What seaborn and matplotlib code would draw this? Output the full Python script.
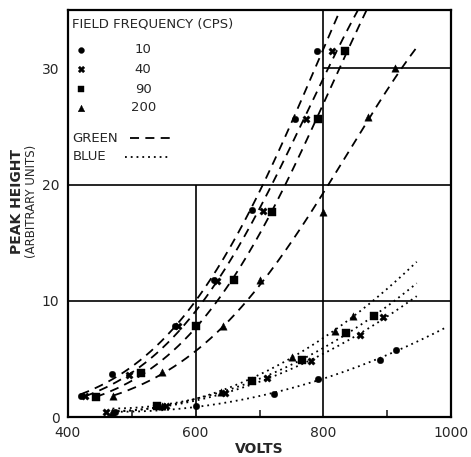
import numpy as np
import pandas as pd
import matplotlib
matplotlib.use("Agg")
import matplotlib.pyplot as plt
import seaborn as sns

# values (volts, peak height)
freqs = ["10", "40", "90", "200"]

green_v = {
    "10": [420, 469, 568, 628, 689, 756, 790],
    "40": [427, 496, 573, 634, 705, 772, 814],
    "90": [444, 515, 601, 660, 720, 791, 833],
    "200": [471, 548, 643, 700, 800, 869, 912],
}
green_h = {
    "10": [1.8, 3.7, 7.8, 11.8, 17.8, 25.6, 31.5],
    "40": [1.8, 3.6, 7.8, 11.7, 17.7, 25.6, 31.5],
    "90": [1.7, 3.8, 7.8, 11.8, 17.6, 25.6, 31.5],
    "200": [1.8, 3.9, 7.8, 11.8, 17.6, 25.8, 30.0],
}
blue_v = {
    "10": [474, 600, 723, 792, 888, 913],
    "40": [460, 554, 646, 712, 781, 858, 894],
    "90": [540, 689, 766, 836, 879],
    "200": [469, 548, 639, 751, 818, 846],
}
blue_h = {
    "10": [0.45, 0.95, 2.0, 3.3, 4.9, 5.8],
    "40": [0.45, 1.0, 2.1, 3.4, 4.8, 7.1, 8.6],
    "90": [1.0, 3.1, 4.9, 7.2, 8.7],
    "200": [0.45, 1.0, 2.2, 5.2, 7.4, 8.7],
}
# span of each drawn fit curve
green_span = {"10": (420, 840), "40": (427, 860), "90": (444, 880), "200": (471, 946)}
blue_span = {"10": (474, 990), "40": (460, 946), "90": (470, 946), "200": (469, 946)}

markers = {"10": "o", "40": "X", "90": "s", "200": "^"}
msize = {"10": 22, "40": 28, "90": 30, "200": 28}

rows = []
for f in freqs:
    for v, h in zip(green_v[f], green_h[f]):
        rows.append({"volts": v, "height": h, "freq": f, "color": "green"})
    for v, h in zip(blue_v[f], blue_h[f]):
        rows.append({"volts": v, "height": h, "freq": f, "color": "blue"})
pts = pd.DataFrame(rows)

sns.set_style("white")
plt.rcParams["font.family"] = ["DejaVu Sans"]

fig, ax = plt.subplots(figsize=(4.71, 4.57), dpi=100)
fig.subplots_adjust(left=0.144, right=0.958, bottom=0.087, top=0.978)

# smooth fits through the read points
# green: quadratic in log height, blue: quadratic in height
for color, spans, dash, use_log in [("green", green_span, (5, 3.5), True),
                                    ("blue", blue_span, (1, 2.2), False)]:
    for f in freqs:
        sub = pts[(pts.freq == f) & (pts.color == color)]
        yy = np.log(sub.height) if use_log else sub.height
        coef = np.polyfit(sub.volts, yy, 2)
        vv = np.linspace(spans[f][0], spans[f][1], 200)
        hh = np.polyval(coef, vv)
        if use_log:
            hh = np.exp(hh)
        curve = pd.DataFrame({"volts": vv, "height": hh})
        sns.lineplot(data=curve, x="volts", y="height", ax=ax, color="black", lw=1.3)
        ax.lines[-1].set_dashes(dash)

for f in freqs:
    sub = pts[pts.freq == f]
    sns.scatterplot(data=sub, x="volts", y="height", ax=ax, marker=markers[f],
                    s=msize[f], color="black", edgecolor="black", linewidth=0.3,
                    legend=False, zorder=5)

# partial grid (legend area kept clear)
ax.vlines(600, 0, 20, color="black", lw=1.2)
ax.vlines(800, 0, 35, color="black", lw=1.2)
ax.hlines([10, 20], 400, 1000, color="black", lw=1.2)
ax.hlines(30, 800, 1000, color="black", lw=1.2)

ax.set_xlim(400, 1000)
ax.set_ylim(0, 35)
ax.set_xticks([400, 600, 800, 1000])
ax.set_xticklabels(["400", "600", "800", "1000"])
ax.set_yticks([0, 10, 20, 30])
ax.set_yticklabels(["0", "10", "20", "30"])
ax.set_xticks([500, 700, 900], minor=True)
ax.tick_params(axis="both", which="major", length=0, labelsize=10, pad=6)
ax.tick_params(axis="x", which="minor", direction="in", length=5, width=1.2, bottom=True)
for s in ax.spines.values():
    s.set_linewidth(1.6)
    s.set_color("black")

fig.text(0.036, 0.56, "PEAK HEIGHT", rotation=90, ha="center", va="center",
         fontsize=10, fontweight="bold")
fig.text(0.066, 0.56, "(ARBITRARY UNITS)", rotation=90, ha="center", va="center",
         fontsize=8.5)

# hand drawn style legend
ax.text(407, 33.8, "FIELD FREQUENCY (CPS)", fontsize=9.5, va="center", ha="left")
rows_y = [31.6, 29.9, 28.2, 26.6]
for f, y in zip(freqs, rows_y):
    ax.scatter([420], [y], marker=markers[f], s=msize[f] * 0.8, color="black", linewidths=0.3)
    ax.text(518, y, f, fontsize=9.5, va="center", ha="center")
ax.text(407, 24.0, "GREEN", fontsize=9.5, va="center", ha="left")
ax.text(407, 22.4, "BLUE", fontsize=9.5, va="center", ha="left")
lg = pd.DataFrame({"volts": [498, 562], "height": [24.0, 24.0]})
sns.lineplot(data=lg, x="volts", y="height", ax=ax, color="black", lw=1.3)
ax.lines[-1].set_dashes((5, 3.5))
lb = pd.DataFrame({"volts": [490, 562], "height": [22.4, 22.4]})
sns.lineplot(data=lb, x="volts", y="height", ax=ax, color="black", lw=1.3)
ax.lines[-1].set_dashes((1, 2.2))
ax.set_xlabel("VOLTS", fontsize=10, fontweight="bold", labelpad=2)
ax.set_ylabel("")

fig.savefig("out.png", dpi=100)
